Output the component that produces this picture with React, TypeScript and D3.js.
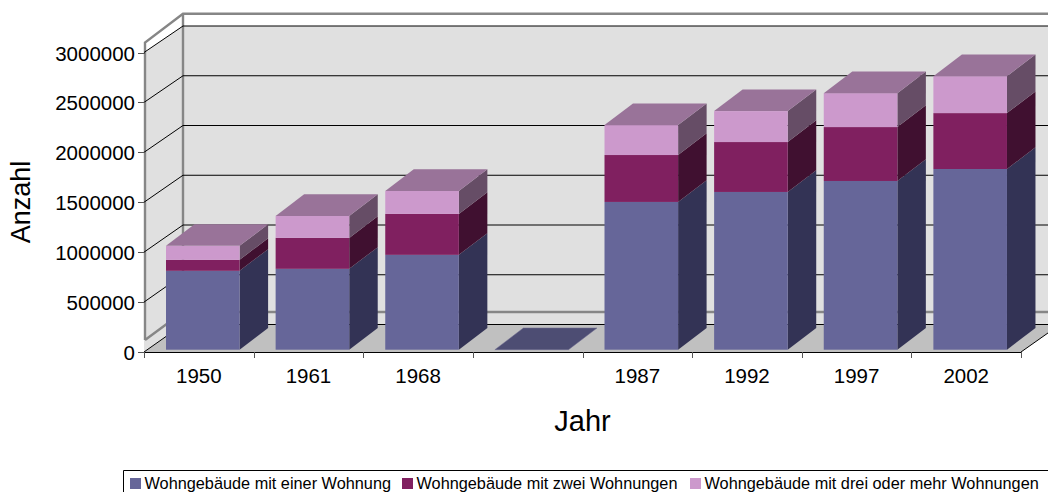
import React from "react";
import * as d3 from "d3";

const years = ["1950", "1961", "1968", "", "1987", "1992", "1997", "2002"];
const seriesNames = [
  "Wohngebäude mit einer Wohnung",
  "Wohngebäude mit zwei Wohnungen",
  "Wohngebäude mit drei oder mehr Wohnungen",
];
const einer = [790000, 810000, 950000, 0, 1480000, 1580000, 1690000, 1810000];
const zwei = [110000, 310000, 410000, 0, 470000, 500000, 540000, 560000];
const drei = [140000, 220000, 230000, 0, 300000, 310000, 340000, 370000];
const yTicks = [0, 500000, 1000000, 1500000, 2000000, 2500000, 3000000];

const frontColors = ["#666699", "#802060", "#cc99cc"];
const sideColors = ["#333355", "#401030", "#664d66"];
const topColors = ["#4d4d73", "#601848", "#997399"];

const FONT = "'Liberation Sans', Arial, sans-serif";
const W = 1048;
const H = 492;

const poly = (p: number[][]) => p.map((q) => q.join(",")).join(" ");

export default function App() {
  const x = d3.scaleBand<number>().domain(d3.range(years.length)).range([144, 1021]).padding(0);
  const yFront = d3.scaleLinear().domain([0, 3000000]).range([352, 52.5]);
  const yBack = d3.scaleLinear().domain([0, 3000000]).range([324.5, 26]);
  const yBar = d3.scaleLinear().domain([0, 3000000]).range([349.7, 50.2]);
  const dx = 39;
  const barDx = 28.5;
  const barDy = -21.7;
  const barW = 73.6;

  const rows = years.map((_, i) => ({ i, a: einer[i], b: zwei[i], c: drei[i] }));
  const stacked = d3.stack<any>().keys(["a", "b", "c"])(rows);

  const backL = x(0)! + dx;
  const frontL = x(0)!;
  const frontR = 1021;

  return (
    <svg
      width={W}
      height={H}
      viewBox={`0 0 ${W} ${H}`}
      style={{ position: "fixed", left: 0, top: 0, background: "#fff" }}
      fontFamily={FONT}
    >
      {/* walls */}
      <polygon points={poly([[backL, yBack(3000000)], [W, yBack(3000000)], [W, yBack(0)], [backL, yBack(0)]])} fill="#e0e0e0" />
      <polygon points={poly([[frontL, yFront(3000000)], [backL, yBack(3000000)], [backL, yBack(0)], [frontL, yFront(0)]])} fill="#e0e0e0" />
      <polygon points={poly([[frontL, yFront(0)], [frontR, yFront(0)], [frontR + dx, yBack(0)], [backL, yBack(0)]])} fill="#c0c0c0" />

      {/* grey frame */}
      <g fill="none" stroke="#868686" strokeWidth={2.4}>
        <polyline points={poly([[145, 340], [145, 42.5], [183, 13.8], [W, 13.8]])} />
        <line x1={183} y1={13.8} x2={183} y2={312} />
        <polyline points={poly([[145, 340], [183, 312], [W, 312]])} />
      </g>

      {/* grid lines */}
      <g stroke="#000" strokeWidth={1} fill="none">
        {yTicks.map((t) => (
          <g key={t}>
            <line x1={backL} x2={W} y1={yBack(t)} y2={yBack(t)} />
            <line x1={frontL} x2={backL} y1={yFront(t)} y2={yBack(t)} />
          </g>
        ))}
        <line x1={frontR} x2={frontR + dx} y1={yFront(0)} y2={yBack(0)} />
      </g>

      {/* bars */}
      {rows.map((r) => {
        const x0 = x(r.i)! + 22;
        const x1 = x0 + barW;
        if (r.a + r.b + r.c === 0) {
          const yb = yBar(0);
          return (
            <polygon
              key={r.i}
              points={poly([[x0, yb], [x1, yb], [x1 + barDx, yb + barDy], [x0 + barDx, yb + barDy]])}
              fill={topColors[0]}
              stroke="#6f6a90"
              strokeWidth={0.5}
            />
          );
        }
        return (
          <g key={r.i}>
            {stacked.map((s, k) => {
              const y0 = yBar(s[r.i][0]);
              const y1 = yBar(s[r.i][1]);
              return (
                <g key={k}>
                  <polygon points={poly([[x1, y0], [x1 + barDx, y0 + barDy], [x1 + barDx, y1 + barDy], [x1, y1]])} fill={sideColors[k]} />
                  <rect x={x0} y={y1} width={barW} height={y0 - y1} fill={frontColors[k]} />
                  {k === 2 && (
                    <polygon points={poly([[x0, y1], [x1, y1], [x1 + barDx, y1 + barDy], [x0 + barDx, y1 + barDy]])} fill={topColors[k]} />
                  )}
                </g>
              );
            })}
          </g>
        );
      })}

      {/* axes */}
      <g strokeWidth={1}>
        <line x1={frontL} x2={frontR} y1={352.5} y2={352.5} stroke="#000" />
        {yTicks.map((t) => (
          <line key={t} x1={138} x2={145} y1={Math.round(yFront(t)) + 0.5} y2={Math.round(yFront(t)) + 0.5} stroke="#555" />
        ))}
        {d3.range(years.length + 1).map((i) => {
          const tx = Math.round(i < years.length ? x(i)! : frontR) + 0.5;
          return <line key={i} x1={tx} x2={tx} y1={352} y2={358} stroke="#555" />;
        })}
      </g>

      {/* tick labels */}
      <g fontSize={20.5} fill="#000" textAnchor="end">
        {yTicks.map((t) => (
          <text key={t} x={135} y={Math.round(yFront(t)) + 7.5}>
            {t}
          </text>
        ))}
      </g>
      <g fontSize={20.5} fill="#000" textAnchor="middle">
        {years.map((y, i) =>
          y ? (
            <text key={i} x={x(i)! + x.bandwidth() / 2} y={383}>
              {y}
            </text>
          ) : null
        )}
      </g>

      {/* axis titles */}
      <text x={582.5} y={431} fontSize={29} textAnchor="middle" fill="#000">
        Jahr
      </text>
      <text transform="translate(30,202) rotate(-90)" fontSize={27} textAnchor="middle" fill="#000">
        Anzahl
      </text>

      {/* legend */}
      <polyline points={poly([[123.5, H], [123.5, 470.5], [W, 470.5]])} fill="none" stroke="#000" strokeWidth={1} />
      {seriesNames.map((n, k) => {
        const sx = [130, 402, 690][k];
        return (
          <g key={n}>
            <rect x={sx} y={478} width={11} height={11} fill={frontColors[k]} />
            <text x={sx + 14.5} y={488.5} fontSize={16.3} fill="#000">
              {n}
            </text>
          </g>
        );
      })}
    </svg>
  );
}
